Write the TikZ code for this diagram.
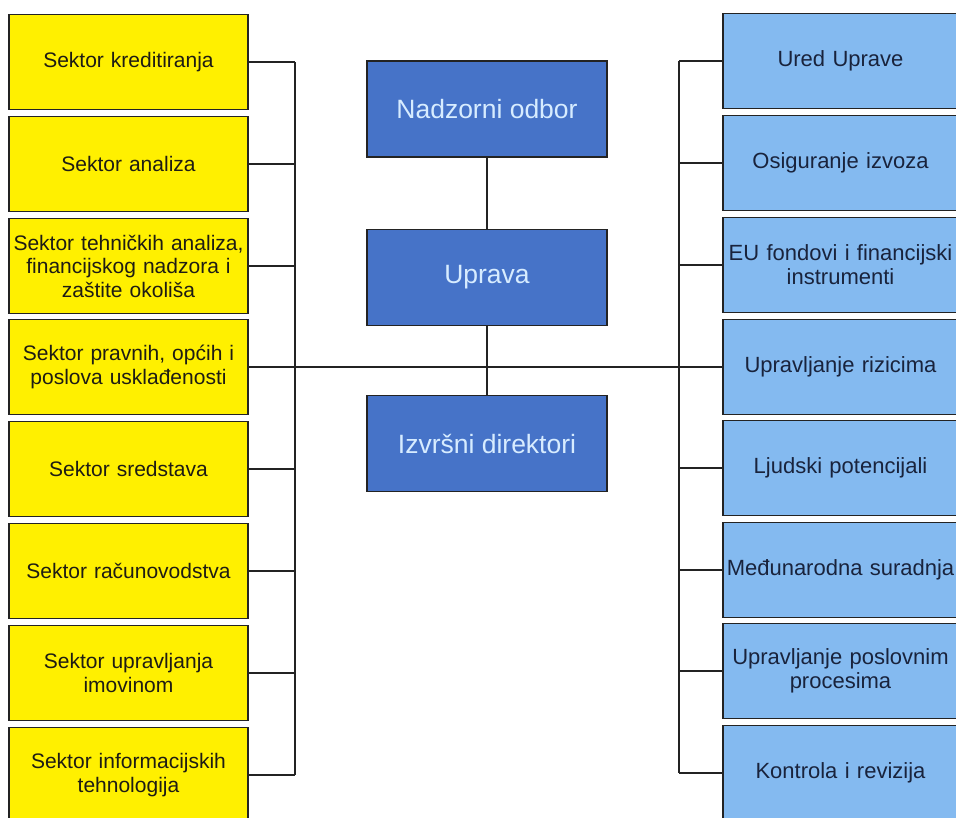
\documentclass[tikz,border=0pt]{standalone}
\usepackage{fontspec}
\setmainfont{Liberation Sans}
\definecolor{yel}{RGB}{255,240,0}
\definecolor{lblue}{RGB}{132,186,240}
\definecolor{dblue}{RGB}{70,115,200}
\definecolor{mtext}{RGB}{215,236,255}
\definecolor{ltext}{RGB}{30,28,20}
\definecolor{rtext}{RGB}{25,35,60}
\definecolor{edge}{RGB}{35,35,35}
\tikzset{
  leftbox/.style={draw=edge, line width=1.4pt, fill=yel, text=ltext,
    minimum width=239pt, minimum height=95pt, text width=235pt, align=center,
    inner sep=1pt, font=\fontsize{21}{23.5}\selectfont},
  rightbox/.style={draw=edge, line width=1.4pt, fill=lblue, text=rtext,
    minimum width=235pt, minimum height=95pt, text width=232pt, align=center,
    inner sep=1pt, font=\fontsize{22}{24}\selectfont},
  midbox/.style={draw=edge, line width=1.2pt, fill=dblue, text=mtext,
    minimum width=240pt, minimum height=96pt, align=center,
    font=\fontsize{26.5}{30}\selectfont},
  conn/.style={draw=edge, line width=1.3pt}
}
\begin{document}
\begin{tikzpicture}[x=1pt,y=-1pt]
\useasboundingbox (0,0) rectangle (956,817);
\clip (0,0) rectangle (956,817);
\fill[white] (0,0) rectangle (956,817);
% left column
\node[leftbox] (L1) at (128.5,62) {Sektor kreditiranja};
\node[leftbox] (L2) at (128.5,164) {Sektor analiza};
\node[leftbox] (L3) at (128.5,266) {Sektor tehničkih analiza,\\financijskog nadzora i\\zaštite okoliša};
\node[leftbox] (L4) at (128.5,367) {Sektor pravnih, općih i\\poslova usklađenosti};
\node[leftbox] (L5) at (128.5,469) {Sektor sredstava};
\node[leftbox] (L6) at (128.5,571) {Sektor računovodstva};
\node[leftbox] (L7) at (128.5,673) {Sektor upravljanja\\imovinom};
\node[leftbox] (L8) at (128.5,775) {Sektor informacijskih\\tehnologija};
% right column
\node[rightbox] (R1) at (840.5,61) {Ured Uprave};
\node[rightbox] (R2) at (840.5,163) {Osiguranje izvoza};
\node[rightbox] (R3) at (840.5,265) {EU fondovi i financijski\\instrumenti};
\node[rightbox] (R4) at (840.5,367) {Upravljanje rizicima};
\node[rightbox] (R5) at (840.5,468) {Ljudski potencijali};
\node[rightbox] (R6) at (840.5,570) {Međunarodna suradnja};
\node[rightbox] (R7) at (840.5,671) {Upravljanje poslovnim\\procesima};
\node[rightbox] (R8) at (840.5,773) {Kontrola i revizija};
% middle
\node[midbox] (N) at (487,109) {Nadzorni odbor};
\node[midbox] (U) at (487,277.5) {Uprava};
\node[midbox] (I) at (487,443.5) {Izvršni direktori};
% bus coordinates
\coordinate (LT) at (295,62);
\coordinate (LB) at (295,775);
\coordinate (RT) at (679,61);
\coordinate (RB) at (679,773);
% connectors
\draw[conn] (LT) -- (LB);
\draw[conn] (RT) -- (RB);
\foreach \i in {1,2,3,5,6,7,8} {
  \draw[conn] (L\i.east) -- (L\i.east -| LT);
  \draw[conn] (R\i.west) -- (R\i.west -| RT);
}
\draw[conn] (L4.east) -- (R4.west);
\draw[conn] (N.south) -- (U.north);
\draw[conn] (U.south) -- (I.north);
\end{tikzpicture}
\end{document}
